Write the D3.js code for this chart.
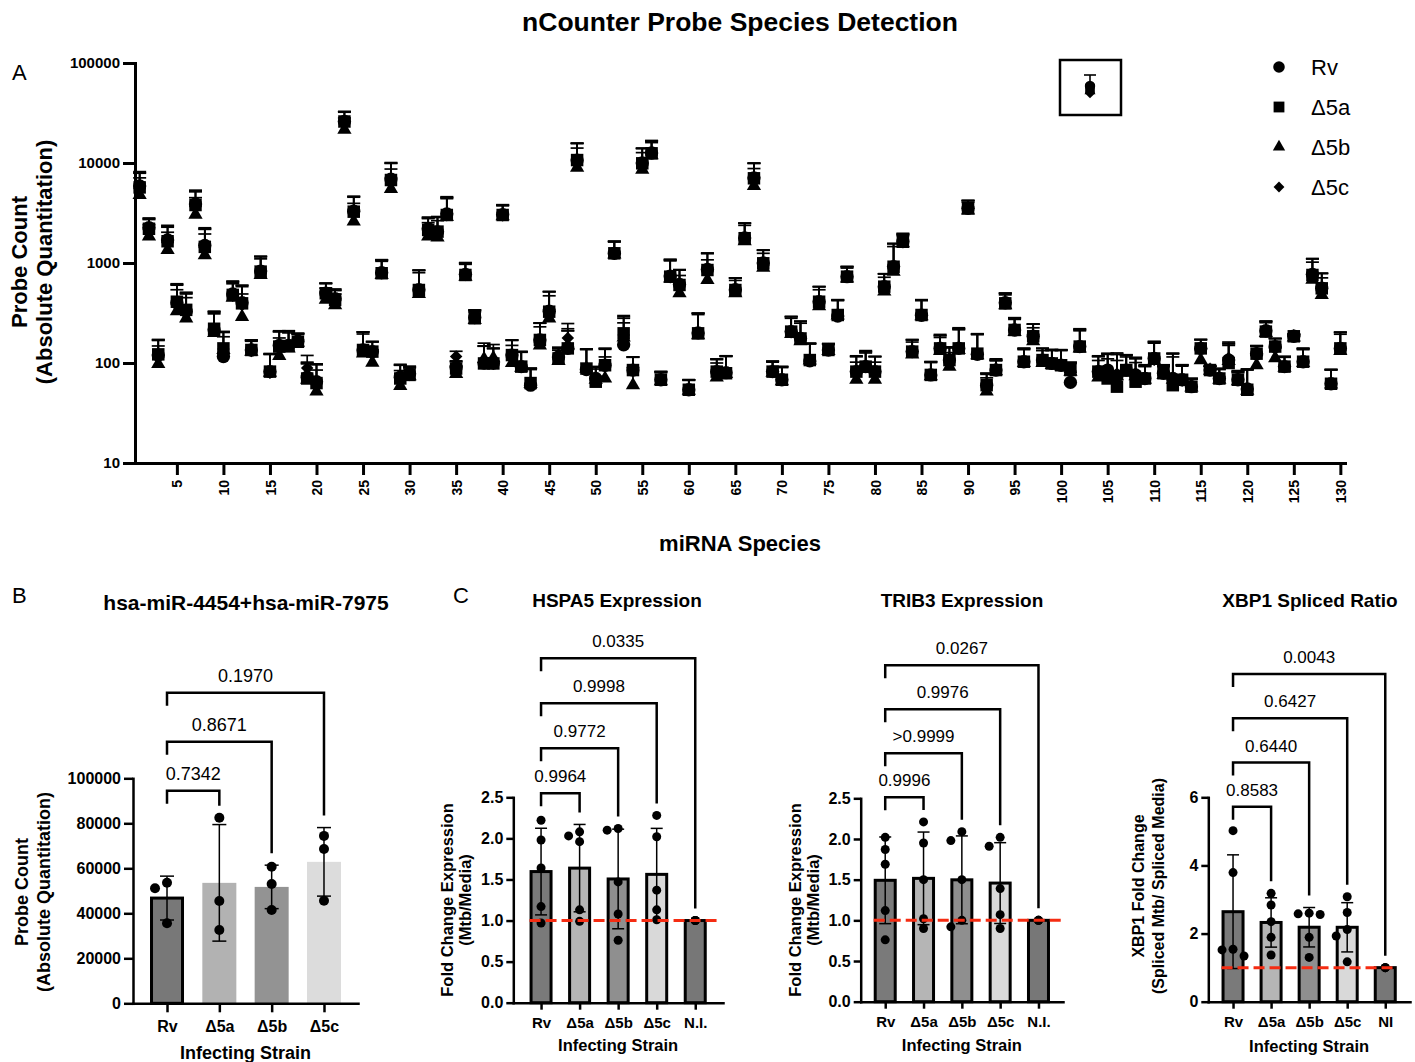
<!DOCTYPE html>
<html>
<head>
<meta charset="utf-8">
<script src="https://cdn.jsdelivr.net/npm/d3@7"></script>
<style>
	body { margin: 0; background: #fff; }
	svg { display: block; }
</style>
</head>
<body>
<svg id="fig" width="1415" height="1062"></svg>
<script>
// ---------- Panel A : nCounter probe counts (species 1..130) ----------
const speciesIds = d3.range(1, 131);
const seriesNames = ["Rv", "Δ5a", "Δ5b", "Δ5c"];

const rvCounts = [
	5900, 2250, 120, 1700, 400, 330, 3900, 1500, 215, 116,
	490, 400, 135, 830, 82, 150, 150, 165, 72, 65,
	500, 440, 26000, 3300, 135, 130, 800, 6900, 72, 78,
	540, 2200, 2050, 3100, 90, 770, 285, 100, 100, 3050,
	120, 92, 60, 170, 330, 115, 140, 10700, 86, 70,
	95, 1250, 152, 85, 10000, 12600, 68, 740, 610, 54,
	200, 860, 82, 80, 540, 1780, 7100, 1000, 82, 68,
	206, 176, 105, 410, 135, 295, 730, 82, 92, 82,
	580, 920, 1640, 130, 300, 76, 140, 107, 140, 3520,
	122, 60, 85, 400, 214, 103, 185, 107, 99, 95,
	64, 146, null, 82, 85, 74, 85, 76, 70, 111,
	79, 70, 68, 58, 140, 85, 70, 107, 68, 55,
	124, 210, 146, 92, 185, 103, 770, 560, 62, 140
];
const d5aCounts = [
	5700, 2200, 122, 1650, 410, 340, 3800, 1450, 220, 140,
	480, 395, 135, 820, 82, 146, 148, 163, 70, 63,
	498, 427, 26000, 3260, 135, 130, 790, 6760, 70, 76,
	537, 2140, 2060, 3020, 88, 759, 280, 99, 99, 3020,
	120, 92, 63, 170, 326, 111, 140, 10700, 88, 65,
	95, 1250, 198, 85, 9930, 12500, 68, 730, 603, 54,
	198, 851, 82, 79, 537, 1770, 7030, 993, 82, 68,
	206, 176, 107, 410, 135, 302, 730, 82, 92, 82,
	580, 918, 1630, 130, 302, 76, 140, 107, 140, 3520,
	124, 60, 85, 395, 214, 103, 185, 107, 99, 95,
	85, 146, null, 82, 70, 58, 85, 65, 70, 111,
	79, 60, 68, 58, 140, 85, 70, 100, 68, 54,
	124, 206, 146, 92, 185, 103, 759, 558, 62, 140
];
const d5bCounts = [
	4800, 1850, 98, 1350, 330, 280, 3050, 1200, 200, 135,
	450, 290, 130, 760, 80, 118, 140, 160, 68, 52,
	430, 380, 21500, 2600, 125, 101, 760, 5500, 59, 74,
	490, 1850, 1800, 2900, 78, 730, 270, 110, 112, 2950,
	100, 90, 62, 150, 280, 105, 150, 9000, 88, 68,
	70, 1220, 180, 60, 8600, 12000, 66, 700, 500, 53,
	190, 676, 72, 78, 500, 1650, 5900, 900, 80, 66,
	195, 165, 106, 370, 132, 300, 700, 68, 88, 68,
	520, 820, 1580, 122, 295, 74, 132, 92, 135, 3350,
	120, 52, 83, 380, 205, 100, 165, 100, 96, 93,
	82, 140, null, 72, 82, 74, 80, 74, 68, 105,
	76, 68, 65, 57, 107, 84, 68, 105, 66, 53,
	95, 200, 112, 90, 180, 100, 680, 480, 61, 132
];
const d5cCounts = [
	5600, 2150, 118, 1600, 390, 320, 3700, 1420, 210, 138,
	470, 380, 132, 810, 80, 145, 150, 165, 89, 64,
	490, 420, 25500, 3200, 133, 128, 790, 6700, 70, 76,
	530, 2100, 2000, 3000, 116, 760, 282, 100, 98, 3000,
	118, 92, 62, 172, 325, 110, 178, 10500, 88, 70,
	92, 1240, 190, 84, 9800, 12800, 68, 720, 600, 54,
	200, 840, 80, 80, 540, 1760, 7000, 990, 82, 68,
	206, 176, 108, 410, 135, 305, 730, 84, 95, 82,
	580, 930, 1680, 132, 305, 76, 145, 110, 145, 3500,
	124, 58, 88, 400, 216, 105, 185, 107, 99, 96,
	84, 150, null, 84, 84, 78, 86, 78, 72, 108,
	80, 70, 67, 58, 138, 85, 70, 112, 70, 55,
	122, 208, 145, 92, 188, 105, 760, 555, 62, 142
];
// upper SD per species
const probeSd = [
	2300, 570, 50, 680, 210, 170, 1450, 750, 110, 67,
	170, 200, 35, 340, 42, 60, 60, 33, 30, 33,
	130, 110, 6700, 1350, 70, 34, 280, 3200, 25, 15,
	310, 680, 850, 1500, 15, 240, 55, 48, 41, 780,
	50, 38, 26, 80, 190, 29, 70, 5100, 50, 22,
	45, 400, 100, 30, 4100, 4000, 14, 350, 250, 14,
	115, 400, 28, 38, 170, 730, 2900, 350, 22, 24,
	85, 85, 50, 170, 21, 125, 190, 34, 38, 34,
	200, 640, 300, 40, 125, 27, 48, 35, 80, 700,
	72, 19, 22, 100, 68, 36, 60, 33, 37, 40,
	17, 70, null, 34, 40, 48, 35, 36, 24, 53,
	16, 55, 28, 12, 32, 8, 18, 50, 14, 32,
	25, 53, 30, 24, 8, 36, 340, 230, 24, 62
];
const probeTicks = [10, 100, 1000, 10000, 100000];

// ---------- Panel B : hsa-miR-4454+hsa-miR-7975 ----------
const strainsB = ["Rv", "Δ5a", "Δ5b", "Δ5c"];
const mirRv = [53600, 35600, 51100];
const mirD5a = [82500, 45500, 32600];
const mirD5b = [60700, 53000, 41500];
const mirD5c = [74400, 68600, 45600];
const mirPvals = ["0.7342", "0.8671", "0.1970"];

// ---------- Panel C ----------
const strainsC = ["Rv", "Δ5a", "Δ5b", "Δ5c", "N.I."];
const strainsXbp = ["Rv", "Δ5a", "Δ5b", "Δ5c", "NI"];

const hspa5Rv = [2.22, 1.98, 1.64, 1.17, 0.97];
const hspa5D5a = [2.08, 1.96, 2.03, 1.13, 0.99];
const hspa5D5b = [2.12, 2.10, 1.47, 1.08, 0.76];
const hspa5D5c = [2.28, 2.02, 1.37, 1.13, 1.01];
const hspa5NI = [1, 1, 1];
const hspa5Pvals = ["0.9964", "0.9772", "0.9998", "0.0335"];

const trib3Rv = [2.02, 1.87, 1.69, 1.12, 0.76];
const trib3D5a = [2.21, 1.95, 1.50, 1.02, 0.90];
const trib3D5b = [2.09, 1.98, 1.50, 0.92, 1.00];
const trib3D5c = [2.02, 1.91, 1.39, 1.07, 0.90];
const trib3NI = [1, 1, 1];
const trib3Pvals = ["0.9996", ">0.9999", "0.9976", "0.0267"];

const xbpRv = [5.02, 3.79, 1.54, 1.52, 1.34];
const xbpD5a = [3.18, 2.84, 2.35, 1.89, 1.37];
const xbpD5b = [2.58, 2.60, 2.56, 1.89, 1.30];
const xbpD5c = [3.08, 2.62, 2.12, 1.93, 1.17];
const xbpNI = [1, 1, 1];
const xbpPvals = ["0.8583", "0.6440", "0.6427", "0.0043"];

const fcTicks = [0, 0.5, 1, 1.5, 2, 2.5];
const xbpTicks = [0, 2, 4, 6];

// ------------------------------------------------------------
const FONT = '"Liberation Sans", Arial, Helvetica, sans-serif';
const svg = d3.select("#fig").style("font-family", FONT);

function label(x, y, str, size, weight, anchor, rotate) {
	return svg.append("text")
		.attr("transform", `translate(${x},${y})` + (rotate ? ` rotate(${rotate})` : ""))
		.attr("text-anchor", anchor || "start")
		.style("font-size", size + "px")
		.style("font-weight", weight || 400)
		.text(str);
}

function styleAxis(g, width, fontSize) {
	g.select(".domain").attr("stroke", "#000").attr("stroke-width", width).attr("stroke-linecap", "square");
	g.selectAll(".tick line").attr("stroke", "#000").attr("stroke-width", width);
	g.selectAll(".tick text")
		.attr("fill", "#000")
		.style("font-family", FONT)
		.style("font-size", fontSize + "px")
		.style("font-weight", 700);
}

// ---------------- Panel A ----------------
function drawProbePanel() {
	const x = d3.scaleLinear().domain([0.5, 130.5]).range([135, 1345]);
	const y = d3.scaleLog().domain([10, 100000]).range([463, 63]);

	const series = [
		{ name: seriesNames[0], values: rvCounts, type: d3.symbolCircle, size: 140, rot: 0 },
		{ name: seriesNames[1], values: d5aCounts, type: d3.symbolSquare, size: 156, rot: 0 },
		{ name: seriesNames[2], values: d5bCounts, type: d3.symbolTriangle, size: 88, rot: 0 },
		{ name: seriesNames[3], values: d5cCounts, type: d3.symbolSquare, size: 78, rot: 45 }
	];

	const g = svg.append("g");

	// error bars (upper only)
	series.forEach(s => {
		const pts = speciesIds.map((id, i) => ({ id, v: s.values[i], sd: probeSd[i] })).filter(d => d.v != null);
		const eb = g.append("g").attr("stroke", "#000").attr("stroke-width", 1.7);
		eb.selectAll("line.stem").data(pts).join("line")
			.attr("x1", d => x(d.id)).attr("x2", d => x(d.id))
			.attr("y1", d => y(d.v)).attr("y2", d => y(d.v + d.sd));
		eb.selectAll("line.cap").data(pts).join("line")
			.attr("x1", d => x(d.id) - 6.5).attr("x2", d => x(d.id) + 6.5)
			.attr("y1", d => y(d.v + d.sd)).attr("y2", d => y(d.v + d.sd));
	});

	series.forEach(s => {
		const pts = speciesIds.map((id, i) => ({ id, v: s.values[i] })).filter(d => d.v != null);
		g.append("g").selectAll("path").data(pts).join("path")
			.attr("d", d3.symbol(s.type, s.size))
			.attr("transform", d => `translate(${x(d.id)},${y(d.v)}) rotate(${s.rot})`)
			.attr("fill", "#000");
	});

	const xAxis = d3.axisBottom(x).tickValues(d3.range(5, 131, 5)).tickSize(12).tickSizeOuter(0);
	const xg = svg.append("g").attr("transform", "translate(0,463)").call(xAxis);
	styleAxis(xg, 3, 14);
	xg.selectAll(".tick text")
		.attr("transform", "rotate(-90)")
		.attr("x", -17).attr("y", 0).attr("dy", "0.36em")
		.style("text-anchor", "end");

	const yAxis = d3.axisLeft(y).tickValues(probeTicks).tickFormat(d3.format("d")).tickSize(12).tickSizeOuter(0);
	const yg = svg.append("g").attr("transform", "translate(135,0)").call(yAxis);
	styleAxis(yg, 3, 15);

	// legend
	series.forEach((s, i) => {
		const ly = 67 + i * 40;
		svg.append("path")
			.attr("d", d3.symbol(s.type, s.size * 0.75))
			.attr("transform", `translate(1279,${ly}) rotate(${s.rot})`)
			.attr("fill", "#000");
		label(1311, ly + 8, s.name, 22, 400, "start");
	});

	// small key box
	svg.append("rect").attr("x", 1060).attr("y", 60).attr("width", 61).attr("height", 55)
		.attr("fill", "none").attr("stroke", "#000").attr("stroke-width", 2.5);
	svg.append("line").attr("x1", 1090).attr("x2", 1090).attr("y1", 75).attr("y2", 88).attr("stroke", "#000").attr("stroke-width", 1.6);
	svg.append("line").attr("x1", 1084).attr("x2", 1096).attr("y1", 75).attr("y2", 75).attr("stroke", "#000").attr("stroke-width", 1.6);
	series.forEach((s, i) => {
		svg.append("path")
			.attr("d", d3.symbol(s.type, s.size * 0.6))
			.attr("transform", `translate(1090,${86 + i * 2.5}) rotate(${s.rot})`)
			.attr("fill", "#000");
	});

	label(740, 31, "nCounter Probe Species Detection", 26.5, 700, "middle");
	label(12, 80, "A", 22, 400, "start");
	label(27, 262, "Probe Count", 22, 700, "middle", -90);
	label(52, 262, "(Absolute Quantitation)", 22, 700, "middle", -90);
	label(740, 551, "miRNA Species", 22, 700, "middle");
}

// ---------------- Bar panels ----------------
class BarPanel {

	constructor(_config, groups, pvals) {
		this.config = _config;
		this.groups = groups;
		this.pvals = pvals;
		this.initVis();
	}

	initVis() {
		let vis = this;
		const c = vis.config;
		vis.g = svg.append("g");

		vis.xScale = d3.scalePoint()
			.domain(vis.groups.map(d => d.name))
			.range([c.x0, c.x1])
			.padding(c.pad);
		vis.yScale = d3.scaleLinear()
			.domain([0, c.yMax])
			.range([c.y0, c.y1]);

		vis.xAxis = d3.axisBottom(vis.xScale).tickSize(c.tick).tickPadding(8).tickSizeOuter(0);
		vis.yAxis = d3.axisLeft(vis.yScale).tickValues(c.ticks).tickFormat(c.format).tickSize(c.tick).tickPadding(3).tickSizeOuter(0);

		vis.stats = vis.groups.map(d => ({
			...d,
			mean: d3.mean(d.points),
			sd: d.points.length > 1 ? d3.deviation(d.points) : 0
		}));

		vis.renderVis();
	}

	// spread overlapping dots sideways; identical values share a spot
	dodge(values, r) {
		let vis = this;
		const placed = [];
		const step = 2 * r + 2;
		values.slice().sort((a, b) => b - a).forEach(v => {
			const py = vis.yScale(v);
			const same = placed.find(p => p.v === v);
			if (same) { placed.push({ x: same.x, y: py, v }); return; }
			let done = false;
			for (const o of [0, -1, 1, -2, 2]) {
				const px = o * step;
				if (placed.every(p => Math.hypot(p.x - px, p.y - py) >= 2 * r)) {
					placed.push({ x: px, y: py, v });
					done = true;
					break;
				}
			}
			if (!done) placed.push({ x: 0, y: py, v });
		});
		return placed;
	}

	renderVis() {
		let vis = this;
		const c = vis.config;
		const bw = c.barWidth;

		// bars
		vis.g.selectAll(".bar")
			.data(vis.stats)
			.join("rect")
			.attr("class", "bar")
			.attr("x", d => vis.xScale(d.name) - (d.border ? bw - 3 : bw) / 2)
			.attr("width", d => d.border ? bw - 3 : bw)
			.attr("y", d => vis.yScale(d.mean))
			.attr("height", d => c.y0 - vis.yScale(d.mean))
			.attr("fill", d => d.fill)
			.attr("stroke", d => d.border ? "#000" : "none")
			.attr("stroke-width", 3);

		// error bars
		const eb = vis.g.append("g").attr("stroke", "#000").attr("stroke-width", 1.5);
		vis.stats.filter(d => d.sd > 0).forEach(d => {
			const cx = vis.xScale(d.name);
			const lo = vis.yScale(d.mean - d.sd), hi = vis.yScale(d.mean + d.sd);
			eb.append("line").attr("x1", cx).attr("x2", cx).attr("y1", lo).attr("y2", hi);
			eb.append("line").attr("x1", cx - c.cap).attr("x2", cx + c.cap).attr("y1", hi).attr("y2", hi);
			eb.append("line").attr("x1", cx - c.cap).attr("x2", cx + c.cap).attr("y1", lo).attr("y2", lo);
		});

		// points
		vis.stats.forEach(d => {
			const cx = vis.xScale(d.name);
			vis.g.append("g").selectAll("circle")
				.data(vis.dodge(d.points, c.r))
				.join("circle")
				.attr("cx", p => cx + p.x)
				.attr("cy", p => p.y)
				.attr("r", c.r)
				.attr("fill", "#000");
		});

		// reference line at 1.0
		if (c.refLine) {
			const first = vis.groups[0].name, last = vis.groups[vis.groups.length - 1].name;
			vis.g.append("line")
				.attr("x1", vis.xScale(first) - bw / 2)
				.attr("x2", vis.xScale(last) + bw / 2 + c.refExtra)
				.attr("y1", vis.yScale(1)).attr("y2", vis.yScale(1))
				.attr("stroke", "#f52c12")
				.attr("stroke-width", 3)
				.attr("stroke-dasharray", "11,5");
		}

		// axes
		const xg = svg.append("g").attr("transform", `translate(0,${c.y0})`).call(vis.xAxis);
		styleAxis(xg, 2.5, c.xFont);
		const yg = svg.append("g").attr("transform", `translate(${c.x0},0)`).call(vis.yAxis);
		styleAxis(yg, 2.5, c.yFont);

		// significance brackets
		const xa = vis.xScale(vis.groups[0].name);
		vis.pvals.forEach((p, i) => {
			const target = vis.stats[i + 1];
			const xb = vis.xScale(target.name);
			const top = c.bracketY0 - i * c.bracketStep;
			const hi = Math.max(d3.max(target.points), target.mean + target.sd);
			const legB = vis.yScale(hi) - 12;
			vis.g.append("path")
				.attr("d", `M${xa},${top + 13}V${top}H${xb}V${legB}`)
				.attr("fill", "none")
				.attr("stroke", "#000")
				.attr("stroke-width", 2.5);
			label((xa + xb) / 2, top - 11, p, c.pFont, 400, "middle");
		});

		// texts
		label(c.titleX, c.titleY, c.title, c.titleFont, 700, "middle");
		label(c.x0 + c.yLab1, c.yLabY, c.yLabel[0], c.yLabFont, 700, "middle", -90);
		label(c.x0 + c.yLab2, c.yLabY, c.yLabel[1], c.yLabFont, 700, "middle", -90);
		label((c.x0 + c.x1) / 2, c.xLabY, "Infecting Strain", c.xLabFont, 700, "middle");
	}
}

drawProbePanel();

// Panel B
label(12, 603, "B", 22, 400, "start");
new BarPanel({
	x0: 133, x1: 358, pad: 0.65, y0: 1003.3, y1: 778.3, yMax: 100000,
	ticks: [0, 20000, 40000, 60000, 80000, 100000], format: d3.format("d"),
	tick: 9, barWidth: 34, cap: 7, r: 5, refLine: false,
	xFont: 16, yFont: 16, pFont: 18,
	bracketY0: 790.7, bracketStep: 49,
	title: "hsa-miR-4454+hsa-miR-7975", titleX: 246, titleY: 610, titleFont: 21,
	yLabel: ["Probe Count", "(Absolute Quantitation)"], yLab1: -105, yLab2: -83, yLabY: 892, yLabFont: 18,
	xLabY: 1059, xLabFont: 18
}, [
	{ name: strainsB[0], points: mirRv, fill: "#787878", border: true },
	{ name: strainsB[1], points: mirD5a, fill: "#b2b2b2", border: false },
	{ name: strainsB[2], points: mirD5b, fill: "#939393", border: false },
	{ name: strainsB[3], points: mirD5c, fill: "#dcdcdc", border: false }
], mirPvals);

// Panel C
label(453, 603, "C", 22, 400, "start");
const cFills = ["#7a7a7a", "#b5b5b5", "#8f8f8f", "#d9d9d9", "#777777"];
const cBase = {
	pad: 0.72, yMax: 2.5, ticks: fcTicks, format: d3.format(".1f"),
	tick: 7, barWidth: 23, cap: 6, r: 4.5, refLine: true, refExtra: 12,
	xFont: 15, yFont: 16, pFont: 17, titleFont: 19,
	yLabel: ["Fold Change Expression", "(Mtb/Media)"], yLab1: -60, yLab2: -42, yLabY: 900, yLabFont: 16.5,
	xLabFont: 16.5
};

new BarPanel({
	...cBase, x0: 513.3, x1: 723, y0: 1002.7, y1: 797.3,
	bracketY0: 793.3, bracketStep: 45,
	title: "HSPA5 Expression", titleX: 617, titleY: 607, xLabY: 1051
}, [hspa5Rv, hspa5D5a, hspa5D5b, hspa5D5c, hspa5NI].map((p, i) =>
	({ name: strainsC[i], points: p, fill: cFills[i], border: true })), hspa5Pvals);

new BarPanel({
	...cBase, x0: 860.7, x1: 1063, pad: 0.64, y0: 1001.7, y1: 798.3,
	bracketY0: 797.3, bracketStep: 44,
	title: "TRIB3 Expression", titleX: 962, titleY: 607, xLabY: 1051
}, [trib3Rv, trib3D5a, trib3D5b, trib3D5c, trib3NI].map((p, i) =>
	({ name: strainsC[i], points: p, fill: cFills[i], border: true })), trib3Pvals);

new BarPanel({
	...cBase, x0: 1208.3, x1: 1410, pad: 0.65, y0: 1001.7, y1: 797.3, yMax: 6,
	ticks: xbpTicks, format: d3.format("d"), refExtra: 0,
	bracketY0: 806.7, bracketStep: 44.2,
	title: "XBP1 Spliced Ratio", titleX: 1310, titleY: 607, xLabY: 1052,
	yLabel: ["XBP1 Fold Change", "(Spliced Mtb/ Spliced Media)"], yLab1: -64, yLab2: -44, yLabY: 886, yLabFont: 16
}, [xbpRv, xbpD5a, xbpD5b, xbpD5c, xbpNI].map((p, i) =>
	({ name: strainsXbp[i], points: p, fill: cFills[i], border: true })), xbpPvals);
</script>
</body>
</html>
